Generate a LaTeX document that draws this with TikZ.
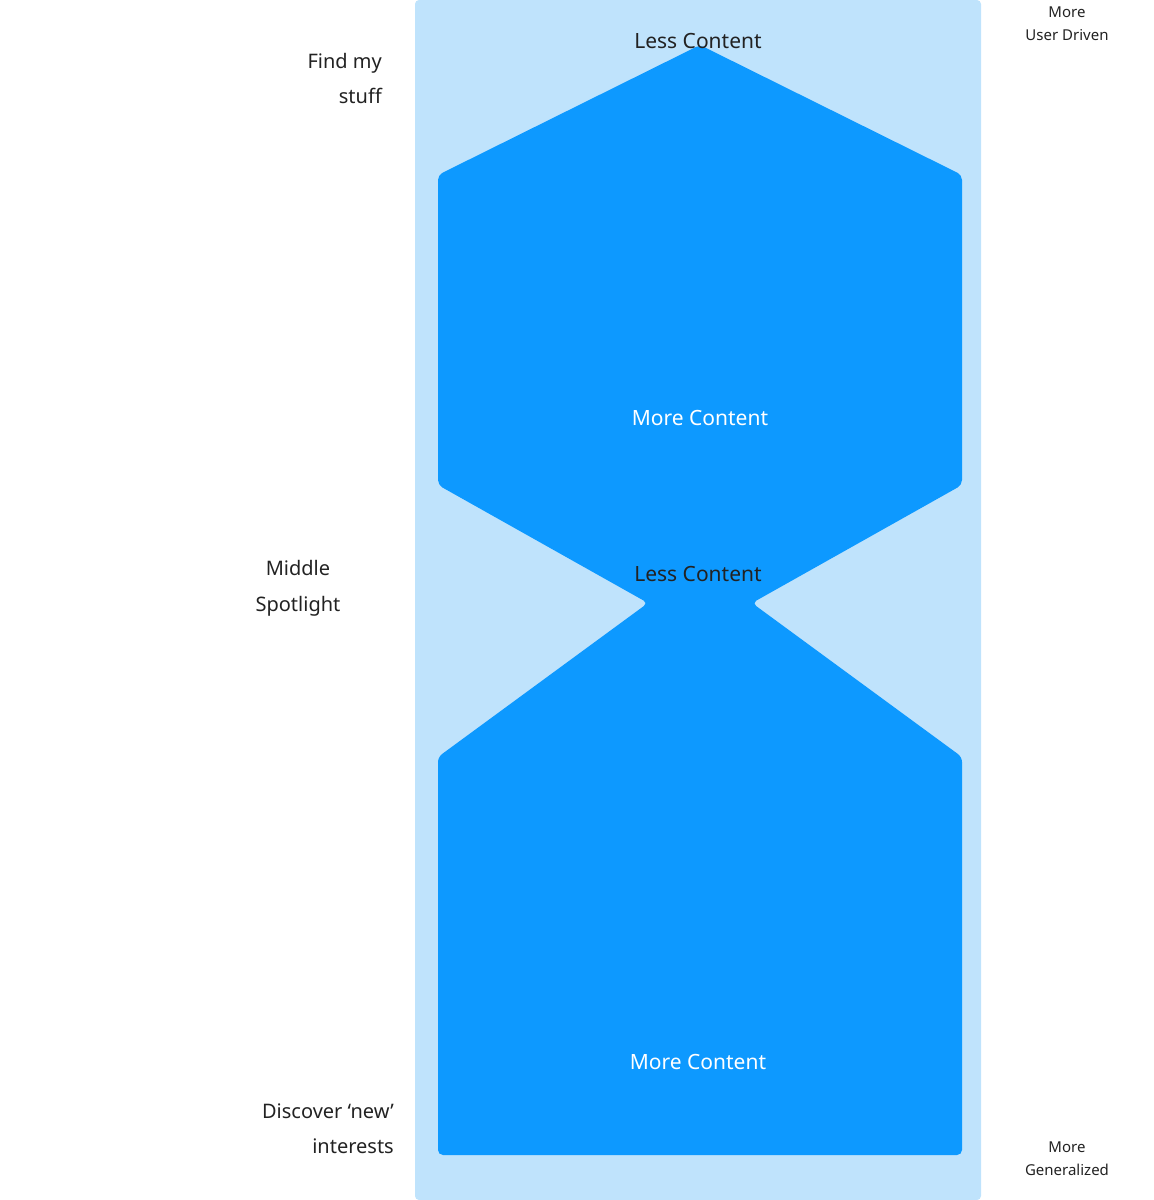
\documentclass[tikz,border=0pt]{standalone}
\usepackage{fontspec}
\setmainfont{Noto Sans}
\definecolor{light}{HTML}{BFE3FC}
\definecolor{dark}{HTML}{0D99FF}
\definecolor{ink}{HTML}{222222}
\begin{document}
\begin{tikzpicture}[x=1pt,y=-1pt,
  big/.style={font=\fontsize{21}{26}\selectfont,text=ink},
  side/.style={font=\fontsize{20}{35}\selectfont,text=ink,inner sep=0pt},
  small/.style={font=\fontsize{15}{23}\selectfont,text=ink,align=center}]
\useasboundingbox (0,0) rectangle (1154,1200);
\fill[light,rounded corners=4] (415,0) rectangle (981,1200);
\fill[dark,rounded corners=5] (700,45) -- (962,175) -- (962,485) -- (752,603) -- (962,757) -- (962,1155) -- (438,1155) -- (438,757) -- (648,603) -- (438,485) -- (438,175) -- cycle;
\node[big] (l1) at (698,41) {Less Content};
\node[big,text=white] (m1) at (700,418) {More Content};
\node[big,font=\fontsize{21}{26}\selectfont\bfseries] (l2) at (698,574) {Less Content};
\node[big,text=white] (m2) at (698,1062) {More Content};
\node[side,align=right,anchor=east] (a) at (382,78) {Find my\\stuff};
\node[side,align=center,font=\fontsize{20}{36}\selectfont\bfseries] (b) at (298,588) {Middle\\Spotlight};
\node[side,align=right,anchor=east] (c) at (394,1129) {Discover ‘new’\\interests};
\node[small] (d) at (1067,24) {More\\User Driven};
\node[small] (e) at (1067,1159) {More\\Generalized};
\end{tikzpicture}
\end{document}
